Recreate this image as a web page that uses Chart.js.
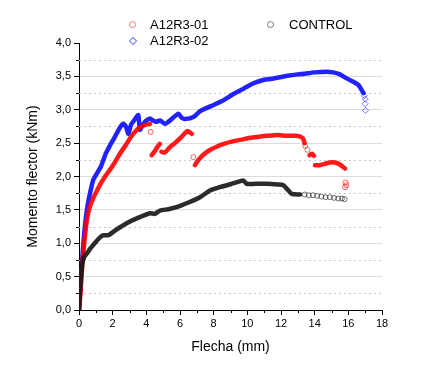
<!DOCTYPE html>
<html>
<head>
<meta charset="utf-8">
<script src="https://cdn.jsdelivr.net/npm/chart.js@4.4.0/dist/chart.umd.min.js"></script>
<style>
    html, body { margin: 0; padding: 0; background: #fff; }
    #wrap { position: relative; width: 444px; height: 370px; font-family: Arial, "Liberation Sans", sans-serif; }
    #wrap canvas { position: absolute; left: 0; top: 0; }
    .leg { position: absolute; font-size: 13px; color: #000; line-height: 14px; white-space: nowrap; }
    .sym { position: absolute; width: 5px; height: 5px; border: 1px solid; box-sizing: content-box; }
    .circ { border-radius: 50%; }
    .diam { transform: rotate(45deg); width: 4px; height: 4px; }
</style>
</head>
<body>
<div id="wrap">
    <canvas id="chart" width="444" height="370"></canvas>
    <span class="sym circ" style="left:129px; top:21px; border-color:rgba(255,60,60,0.7);"></span>
    <span class="leg" style="left:150px; top:18px;">A12R3-01</span>
    <span class="sym diam" style="left:130px; top:38px; border-color:rgba(60,60,255,0.7);"></span>
    <span class="leg" style="left:150px; top:34px;">A12R3-02</span>
    <span class="sym circ" style="left:267px; top:21px; border-color:rgba(0,0,0,0.5);"></span>
    <span class="leg" style="left:289px; top:18px;">CONTROL</span>
</div>
<script>
// A12R3-01 (red), null breaks the curve where the test data jumps
const a01X = [0, 0.1, 0.2, 0.35, 0.5, 0.65, 0.85, 1.05, 1.3, 1.6, 1.84, 2.1, 2.4, 2.83, 3.1, 3.4, 3.62, 3.9, 4.22,
    4.25, 4.32, 4.5, 4.65, 4.8,
    4.85, 4.9, 5.1, 5.4, 5.7, 6.0, 6.3, 6.45, 6.7,
    6.8, 6.89, 7.1, 7.4, 7.8, 8.2, 8.6, 9.2, 9.8, 10.2, 10.8, 11.2, 11.8, 12.3, 12.8, 13.1, 13.3, 13.4,
    13.5, 13.7, 13.85, 13.95,
    14.0, 14.02, 14.3, 14.6, 14.9, 15.2, 15.5, 15.8];
const a01Y = [0, 0.3, 0.7, 1.1, 1.4, 1.55, 1.68, 1.78, 1.9, 2.02, 2.1, 2.2, 2.33, 2.49, 2.6, 2.69, 2.74, 2.77, 2.79,
    null, 2.32, 2.38, 2.44, 2.49,
    null, 2.37, 2.36, 2.44, 2.5, 2.57, 2.65, 2.68, 2.64,
    null, 2.17, 2.25, 2.33, 2.40, 2.45, 2.49, 2.53, 2.56, 2.58, 2.60, 2.61, 2.62, 2.61, 2.61, 2.60, 2.57, 2.50,
    null, 2.32, 2.34, 2.31,
    null, 2.17, 2.17, 2.19, 2.21, 2.21, 2.18, 2.12];
const a01SparseX = [4.26, 6.79, 13.43, 13.57, 15.83, 15.88, 15.8];
const a01SparseY = [2.67, 2.29, 2.46, 2.40, 1.91, 1.87, 1.84];

// A12R3-02 (blue)
const a02X = [0, 0.1, 0.2, 0.35, 0.5, 0.7, 0.85, 1.0, 1.3, 1.6, 1.85, 2.1, 2.4, 2.63, 2.8, 2.93, 3.1, 3.3, 3.52, 3.62,
    3.8, 4.0, 4.22, 4.4, 4.6, 4.81, 5.11, 5.5, 5.9, 6.1, 6.3, 6.8, 7.2, 7.8, 8.5, 9.2, 9.8, 10.4, 11.0, 11.4, 12.0,
    12.4, 13.0, 13.4, 14.0, 14.7, 15.1, 15.5, 15.9, 16.3, 16.6, 16.9];
const a02Y = [0, 0.4, 0.8, 1.25, 1.55, 1.8, 1.95, 2.02, 2.15, 2.35, 2.47, 2.58, 2.72, 2.79, 2.74, 2.64, 2.78, 2.85, 2.92, 2.70,
    2.78, 2.84, 2.87, 2.84, 2.82, 2.84, 2.79, 2.86, 2.94, 2.88, 2.86, 2.89, 2.98, 3.05, 3.13, 3.24, 3.32, 3.40, 3.45, 3.46, 3.49,
    3.51, 3.53, 3.54, 3.56, 3.57, 3.56, 3.53, 3.47, 3.42, 3.37, 3.25];
const a02SparseX = [16.95, 17.0, 17.0, 17.02];
const a02SparseY = [3.21, 3.16, 3.09, 2.99];

// CONTROL (black)
const ctrlX = [0, 0.05, 0.12, 0.2, 0.3, 0.45, 0.7, 1.0, 1.3, 1.45, 1.74, 2.2, 2.83, 3.5, 4.22, 4.5, 4.81, 5.3, 5.8, 6.5,
    7.19, 7.78, 8.5, 9.2, 9.76, 9.96, 10.5, 11.15, 11.8, 12.14, 12.44, 12.64, 13.13];
const ctrlY = [0, 0.25, 0.5, 0.7, 0.79, 0.84, 0.93, 1.02, 1.1, 1.12, 1.12, 1.2, 1.3, 1.38, 1.45, 1.44, 1.49, 1.51, 1.54, 1.61,
    1.69, 1.79, 1.85, 1.90, 1.94, 1.89, 1.89, 1.89, 1.88, 1.87, 1.79, 1.74, 1.73];
const ctrlSparseX = [13.4, 13.65, 13.9, 14.15, 14.4, 14.65, 14.9, 15.15, 15.4, 15.62, 15.78];
const ctrlSparseY = [1.73, 1.72, 1.72, 1.71, 1.70, 1.69, 1.69, 1.68, 1.67, 1.67, 1.66];

const xTicks = { min: 0, max: 18, step: 2 };
const yTicks = { min: 0, max: 4, step: 0.5 };

function pts(xs, ys) {
    return xs.map((x, i) => ({ x: x, y: ys[i] }));
}

function band(label, xs, ys, color) {
    return {
        label: label,
        data: pts(xs, ys),
        showLine: true,
        spanGaps: false,
        borderColor: color,
        borderWidth: 4.5,
        pointRadius: 0,
        borderJoinStyle: 'round',
        borderCapStyle: 'round',
        tension: 0.2
    };
}

function markers(label, xs, ys, color, style) {
    return {
        label: label,
        data: pts(xs, ys),
        showLine: false,
        pointStyle: style,
        pointRadius: style === 'rectRot' ? 3 : 2.5,
        pointBorderWidth: 1,
        pointBorderColor: color,
        pointBackgroundColor: 'rgba(0,0,0,0)'
    };
}

// Minor dotted grid lines and minor tick marks, like the original plot
const minorGrid = {
    id: 'minorGrid',
    beforeDatasetsDraw(chart) {
        const { ctx, chartArea, scales } = chart;
        const x = scales.x, y = scales.y;
        ctx.save();
        ctx.lineWidth = 1;
        for (let v = yTicks.min + yTicks.step / 2; v < yTicks.max; v += yTicks.step) {
            const py = Math.round(y.getPixelForValue(v)) + 0.5;
            ctx.strokeStyle = '#c8c8c8';
            ctx.setLineDash([2, 3]);
            ctx.beginPath();
            ctx.moveTo(chartArea.left, py);
            ctx.lineTo(chartArea.right, py);
            ctx.stroke();
            ctx.setLineDash([]);
            ctx.strokeStyle = '#000';
            ctx.beginPath();
            ctx.moveTo(chartArea.left - 3, py);
            ctx.lineTo(chartArea.left, py);
            ctx.stroke();
        }
        for (let v = xTicks.min + xTicks.step / 2; v < xTicks.max; v += xTicks.step) {
            const px = Math.round(x.getPixelForValue(v)) + 0.5;
            ctx.strokeStyle = '#000';
            ctx.beginPath();
            ctx.moveTo(px, chartArea.bottom);
            ctx.lineTo(px, chartArea.bottom + 3);
            ctx.stroke();
        }
        ctx.restore();
    }
};

const tickFont = { family: 'Arial, "Liberation Sans", sans-serif', size: 11 };
const titleFont = { family: 'Arial, "Liberation Sans", sans-serif', size: 14 };

new Chart(document.getElementById('chart'), {
    type: 'scatter',
    data: {
        datasets: [
            band('CONTROL', ctrlX, ctrlY, 'rgba(25,25,25,0.92)'),
            markers('CONTROL tail', ctrlSparseX, ctrlSparseY, 'rgba(0,0,0,0.55)', 'circle'),
            band('A12R3-01', a01X, a01Y, 'rgba(255,0,0,0.9)'),
            markers('A12R3-01 pts', a01SparseX, a01SparseY, 'rgba(255,0,0,0.6)', 'circle'),
            band('A12R3-02', a02X, a02Y, 'rgba(10,10,255,0.9)'),
            markers('A12R3-02 pts', a02SparseX, a02SparseY, 'rgba(40,40,255,0.6)', 'rectRot')
        ]
    },
    options: {
        responsive: false,
        animation: false,
        layout: { padding: { top: 43, right: 62, left: 0, bottom: 0 } },
        plugins: {
            legend: { display: false },
            tooltip: { enabled: false }
        },
        scales: {
            x: {
                type: 'linear',
                min: xTicks.min,
                max: xTicks.max,
                afterFit: (s) => { s.height = 60; },
                ticks: { stepSize: xTicks.step, color: '#000', font: tickFont, padding: 2, maxRotation: 0 },
                grid: { drawOnChartArea: false, tickColor: '#000', tickLength: 5 },
                border: { color: '#000', width: 1 },
                title: { display: true, text: 'Flecha (mm)', color: '#000', font: titleFont, padding: { top: 6, bottom: 14 } }
            },
            y: {
                min: yTicks.min,
                max: yTicks.max,
                afterFit: (s) => { s.width = 79; },
                ticks: {
                    stepSize: yTicks.step,
                    color: '#000',
                    font: tickFont,
                    padding: 3,
                    callback: (v) => v.toFixed(1).replace('.', ',')
                },
                grid: {
                    color: (c) => (c.tick && (c.tick.value === yTicks.min || c.tick.value === yTicks.max)) ? 'rgba(0,0,0,0)' : '#dcdcdc',
                    tickColor: '#000',
                    tickLength: 5
                },
                border: { color: '#000', width: 1 },
                title: { display: true, text: 'Momento flector (kNm)', color: '#000', font: titleFont, padding: { top: 25, bottom: 0 } }
            }
        }
    },
    plugins: [minorGrid]
});
</script>
</body>
</html>
